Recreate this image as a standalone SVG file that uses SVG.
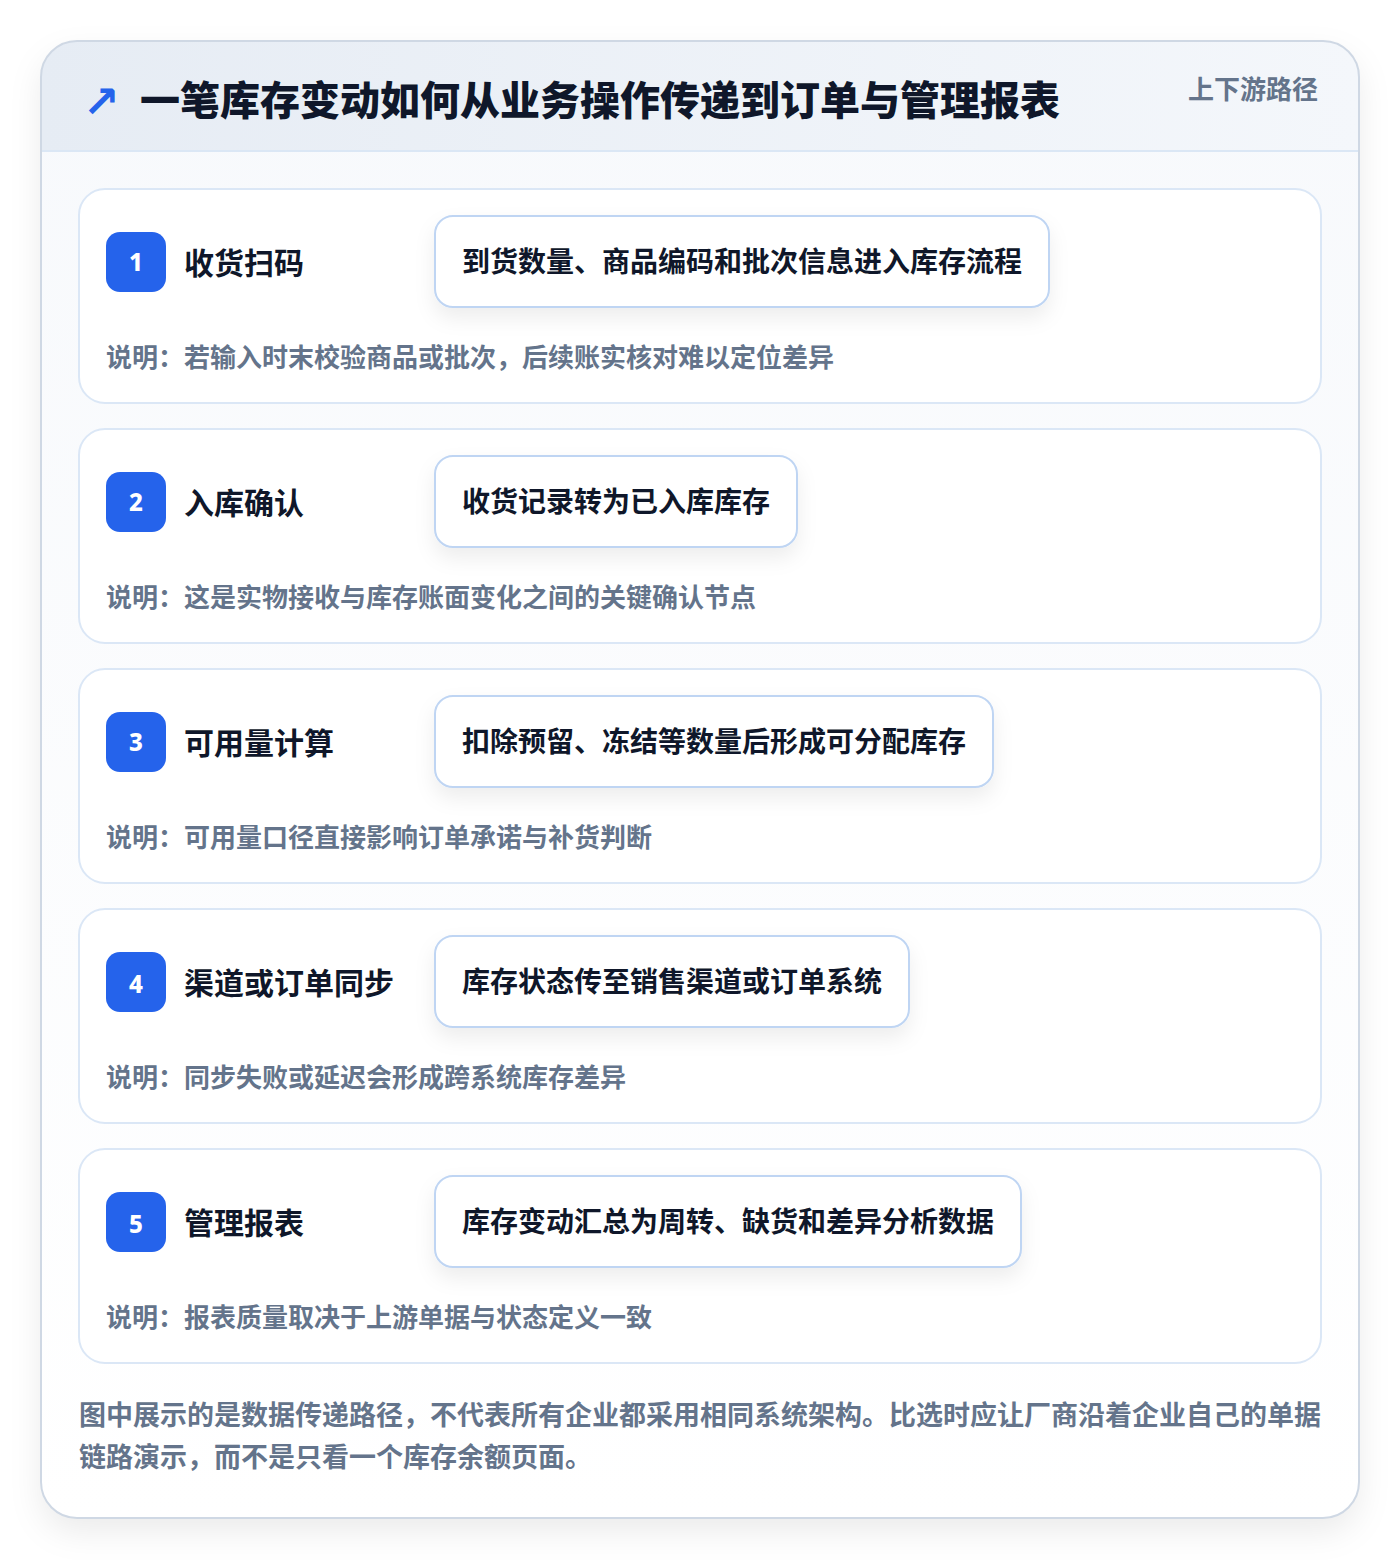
<svg xmlns="http://www.w3.org/2000/svg" width="1400" height="1560" viewBox="0 0 1400 1560">
<defs>
<linearGradient id="hdr" x1="0" y1="0" x2="1" y2="0">
<stop offset="0" stop-color="#e6ecf4"/>
<stop offset="1" stop-color="#f4f7fb"/>
</linearGradient>
<linearGradient id="body" x1="0" y1="0" x2="0" y2="1">
<stop offset="0" stop-color="#f7f9fc"/>
<stop offset="1" stop-color="#ffffff"/>
</linearGradient>
<filter id="outerShadow" x="-10%" y="-10%" width="120%" height="120%">
<feDropShadow dx="0" dy="14" stdDeviation="16" flood-color="#0f172a" flood-opacity="0.08"/>
</filter>
<filter id="boxShadow" x="-10%" y="-30%" width="120%" height="170%">
<feDropShadow dx="0" dy="10" stdDeviation="10" flood-color="#0f172a" flood-opacity="0.07"/>
</filter>
<clipPath id="outerClip"><rect x="41" y="41" width="1318" height="1477" rx="36"/></clipPath>
</defs>
<style>
.cn{font-family:"Noto Sans CJK SC","Noto Sans",sans-serif;font-weight:700}
.title{font-size:40px;fill:#0f172a;font-weight:900}
.tag{font-size:26px;fill:#64748b}
.card{fill:#ffffff;stroke:#dbe7f6;stroke-width:2}
.badge{fill:#2563eb}
.num{font-size:24px;fill:#ffffff;font-family:"Noto Sans","DejaVu Sans",sans-serif;font-weight:800}
.stitle{font-size:30px;fill:#0f172a}
.box{fill:#ffffff;stroke:#bfd5f3;stroke-width:2}
.btext{font-size:28px;fill:#0f172a}
.note{font-size:26px;fill:#64748b}
.foot{font-size:27px;fill:#64748b}
</style>
<rect x="0" y="0" width="1400" height="1560" fill="#ffffff"/>
<g id="frame">
<rect x="41" y="41" width="1318" height="1477" rx="36" fill="url(#body)" filter="url(#outerShadow)"/>
<g clip-path="url(#outerClip)">
<rect x="41" y="41" width="1318" height="110" fill="url(#hdr)"/>
<line x1="41" y1="151" x2="1359" y2="151" stroke="#dbe7f5" stroke-width="2"/>
</g>
<rect x="41" y="41" width="1318" height="1477" rx="36" fill="none" stroke="#cfd8e4" stroke-width="2"/>
</g>
<g id="header">
<text x="83" y="117" font-family="'DejaVu Sans',sans-serif" font-size="44" font-weight="700" fill="#2563eb">↗</text>
<text x="140" y="115" class="cn title">一笔库存变动如何从业务操作传递到订单与管理报表</text>
<text x="1318" y="99" class="cn tag" text-anchor="end">上下游路径</text>
</g>
<g id="connectors"></g>
<g id="step1">
<rect x="79" y="189" width="1242" height="214" rx="26" class="card"/>
<rect x="106" y="232" width="60" height="60" rx="14" class="badge"/>
<text x="136" y="271" class="num" text-anchor="middle">1</text>
<text x="184" y="274" class="cn stitle">收货扫码</text>
<rect x="435" y="216" width="614" height="91" rx="18" class="box" filter="url(#boxShadow)"/>
<text x="462" y="272" class="cn btext">到货数量、商品编码和批次信息进入库存流程</text>
<text x="106" y="367" class="cn note">说明：若输入时末校验商品或批次，后续账实核对难以定位差异</text>
</g>
<g id="step2">
<rect x="79" y="429" width="1242" height="214" rx="26" class="card"/>
<rect x="106" y="472" width="60" height="60" rx="14" class="badge"/>
<text x="136" y="511" class="num" text-anchor="middle">2</text>
<text x="184" y="514" class="cn stitle">入库确认</text>
<rect x="435" y="456" width="362" height="91" rx="18" class="box" filter="url(#boxShadow)"/>
<text x="462" y="512" class="cn btext">收货记录转为已入库库存</text>
<text x="106" y="607" class="cn note">说明：这是实物接收与库存账面变化之间的关键确认节点</text>
</g>
<g id="step3">
<rect x="79" y="669" width="1242" height="214" rx="26" class="card"/>
<rect x="106" y="712" width="60" height="60" rx="14" class="badge"/>
<text x="136" y="751" class="num" text-anchor="middle">3</text>
<text x="184" y="754" class="cn stitle">可用量计算</text>
<rect x="435" y="696" width="558" height="91" rx="18" class="box" filter="url(#boxShadow)"/>
<text x="462" y="752" class="cn btext">扣除预留、冻结等数量后形成可分配库存</text>
<text x="106" y="847" class="cn note">说明：可用量口径直接影响订单承诺与补货判断</text>
</g>
<g id="step4">
<rect x="79" y="909" width="1242" height="214" rx="26" class="card"/>
<rect x="106" y="952" width="60" height="60" rx="14" class="badge"/>
<text x="136" y="993" class="num" text-anchor="middle">4</text>
<text x="184" y="994" class="cn stitle">渠道或订单同步</text>
<rect x="435" y="936" width="474" height="91" rx="18" class="box" filter="url(#boxShadow)"/>
<text x="462" y="992" class="cn btext">库存状态传至销售渠道或订单系统</text>
<text x="106" y="1087" class="cn note">说明：同步失败或延迟会形成跨系统库存差异</text>
</g>
<g id="step5">
<rect x="79" y="1149" width="1242" height="214" rx="26" class="card"/>
<rect x="106" y="1192" width="60" height="60" rx="14" class="badge"/>
<text x="136" y="1233" class="num" text-anchor="middle">5</text>
<text x="184" y="1234" class="cn stitle">管理报表</text>
<rect x="435" y="1176" width="586" height="91" rx="18" class="box" filter="url(#boxShadow)"/>
<text x="462" y="1232" class="cn btext">库存变动汇总为周转、缺货和差异分析数据</text>
<text x="106" y="1327" class="cn note">说明：报表质量取决于上游单据与状态定义一致</text>
</g>
<g id="footer">
<text x="79" y="1425" class="cn foot">图中展示的是数据传递路径，不代表所有企业都采用相同系统架构。比选时应让厂商沿着企业自己的单据</text>
<text x="79" y="1467" class="cn foot">链路演示，而不是只看一个库存余额页面。</text>
</g>
</svg>
